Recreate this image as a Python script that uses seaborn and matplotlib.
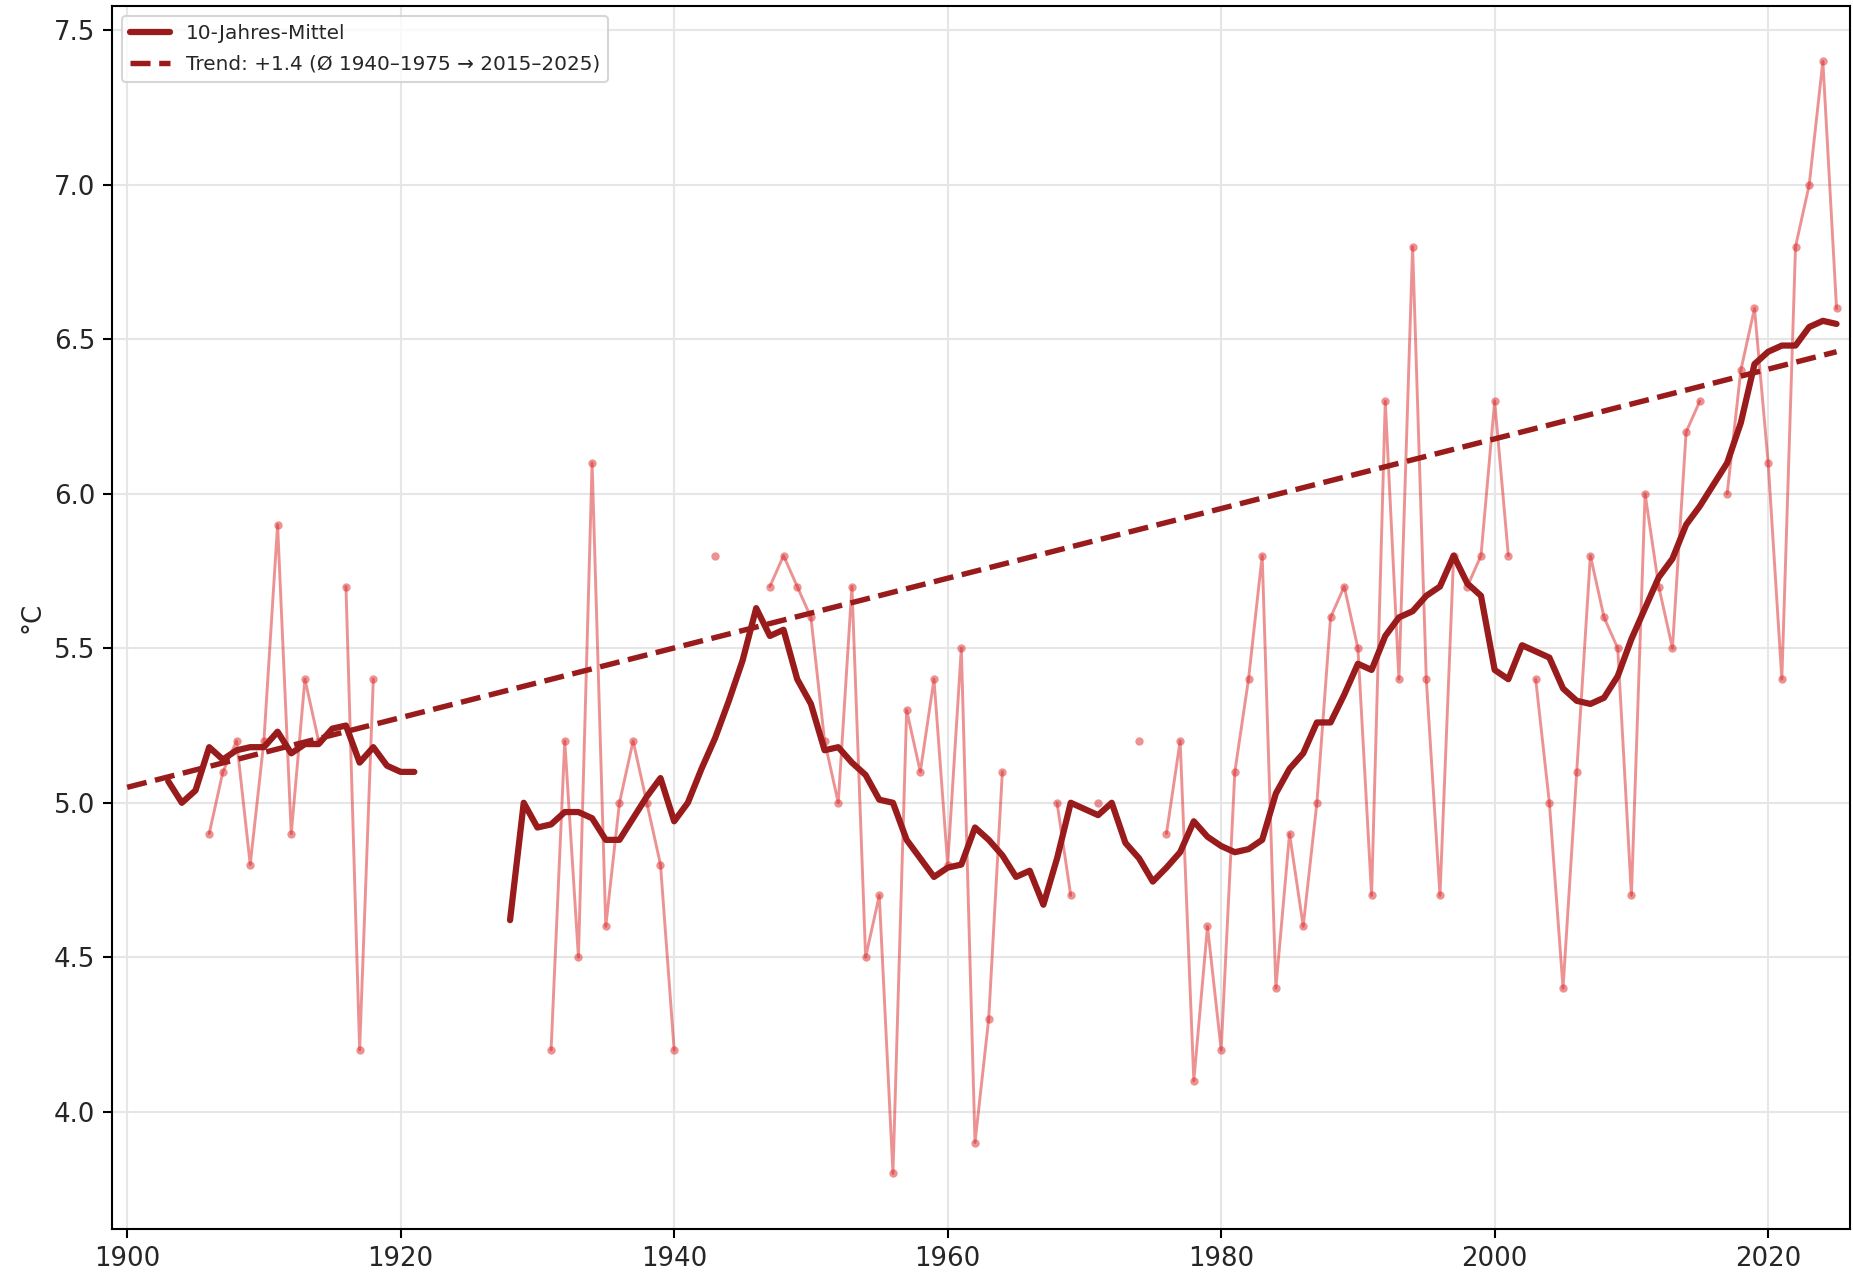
import numpy as np
import pandas as pd
import matplotlib
matplotlib.use("Agg")
import matplotlib.pyplot as plt
import seaborn as sns

nan = np.nan

# ---- data ----
raw_years = list(range(1906, 2026))
raw_values = [
    4.9, 5.1, 5.2, 4.8, 5.2, 5.9, 4.9, 5.4, 5.2, nan,          # 1906-1915
    5.7, 4.2, 5.4, nan, nan, nan, nan, nan, nan, nan,          # 1916-1925
    nan, nan, nan, nan, nan, 4.2, 5.2, 4.5, 6.1, 4.6,          # 1926-1935
    5.0, 5.2, 5.0, 4.8, 4.2, nan, nan, 5.8, nan, nan,          # 1936-1945
    nan, 5.7, 5.8, 5.7, 5.6, 5.2, 5.0, 5.7, 4.5, 4.7,          # 1946-1955
    3.8, 5.3, 5.1, 5.4, 4.8, 5.5, 3.9, 4.3, 5.1, nan,          # 1956-1965
    nan, nan, 5.0, 4.7, nan, 5.0, nan, nan, 5.2, nan,          # 1966-1975
    4.9, 5.2, 4.1, 4.6, 4.2, 5.1, 5.4, 5.8, 4.4, 4.9,          # 1976-1985
    4.6, 5.0, 5.6, 5.7, 5.5, 4.7, 6.3, 5.4, 6.8, 5.4,          # 1986-1995
    4.7, 5.8, 5.7, 5.8, 6.3, 5.8, nan, 5.4, 5.0, 4.4,          # 1996-2005
    5.1, 5.8, 5.6, 5.5, 4.7, 6.0, 5.7, 5.5, 6.2, 6.3,          # 2006-2015
    nan, 6.0, 6.4, 6.6, 6.1, 5.4, 6.8, 7.0, 7.4, 6.6,          # 2016-2025
]

roll_years = list(range(1903, 2026))
roll_values = [
    5.07, 5.00, 5.04, 5.18, 5.14, 5.17, 5.18,                  # 1903-1909
    5.18, 5.23, 5.16, 5.19, 5.19, 5.24, 5.25, 5.13, 5.18, 5.12,  # 1910-1919
    5.10, 5.10, nan, nan, nan, nan, nan, nan, 4.62, 5.00,      # 1920-1929
    4.92, 4.93, 4.97, 4.97, 4.95, 4.88, 4.88, 4.95, 5.02, 5.08,  # 1930-1939
    4.94, 5.00, 5.11, 5.21, 5.33, 5.46, 5.63, 5.54, 5.56, 5.40,  # 1940-1949
    5.32, 5.17, 5.18, 5.13, 5.09, 5.01, 5.00, 4.88, 4.82, 4.76,  # 1950-1959
    4.79, 4.80, 4.92, 4.88, 4.83, 4.76, 4.78, 4.67, 4.82, 5.00,  # 1960-1969
    4.98, 4.96, 5.00, 4.87, 4.82, 4.745, 4.79, 4.84, 4.94, 4.89,  # 1970-1979
    4.86, 4.84, 4.85, 4.88, 5.03, 5.11, 5.16, 5.26, 5.26, 5.35,  # 1980-1989
    5.45, 5.43, 5.54, 5.60, 5.62, 5.67, 5.70, 5.80, 5.71, 5.67,  # 1990-1999
    5.43, 5.40, 5.51, 5.49, 5.47, 5.37, 5.33, 5.32, 5.34, 5.41,  # 2000-2009
    5.53, 5.63, 5.73, 5.79, 5.90, 5.96, 6.03, 6.10, 6.23, 6.42,  # 2010-2019
    6.46, 6.48, 6.48, 6.54, 6.56, 6.55,                        # 2020-2025
]

trend_years = [1900, 2025]
trend_values = [5.05, 6.46]

roll_label = "10-Jahres-Mittel"
trend_label = "Trend: +1.4 (Ø 1940–1975 → 2015–2025)"
y_label = "°C"
y_ticks = [4.0, 4.5, 5.0, 5.5, 6.0, 6.5, 7.0, 7.5]
x_ticks = [1900, 1920, 1940, 1960, 1980, 2000, 2020]


def segmented(years, values):
    df = pd.DataFrame({"year": years, "value": values})
    df["seg"] = df["value"].isna().cumsum()
    return df.dropna().reset_index(drop=True)


raw_df = segmented(raw_years, raw_values)
roll_df = segmented(roll_years, roll_values)
trend_df = pd.DataFrame({"year": trend_years, "value": trend_values})

sns.set_theme(style="ticks")
plt.rcParams["font.family"] = ["DejaVu Sans"]

dark = "#991b1b"
light = "#dc2626"

fig, ax = plt.subplots(figsize=(1853 / 150, 1275 / 150), dpi=150)
fig.subplots_adjust(left=0.0605, right=0.9985, top=0.9955, bottom=0.036)

sns.lineplot(data=raw_df, x="year", y="value", units="seg", estimator=None,
             color=light, alpha=0.5, lw=1.4, marker="o", markersize=4,
             markeredgewidth=0, ax=ax, legend=False)
sns.lineplot(data=roll_df, x="year", y="value", units="seg", estimator=None,
             color=dark, lw=3.0, ax=ax, label=roll_label)
sns.lineplot(data=trend_df, x="year", y="value", color=dark, lw=2.6,
             linestyle="--", ax=ax, label=trend_label)

ax.set_xlim(1898.9, 2026.0)
ax.set_ylim(3.62, 7.58)
ax.set_xticks(x_ticks)
ax.set_yticks(y_ticks)
ax.set_yticklabels([f"{v:.1f}" for v in y_ticks])
ax.set_xlabel("")
ax.set_ylabel(y_label, fontsize=12.5)
ax.tick_params(axis="both", labelsize=12.5, length=4.5, width=1, color="black")
ax.grid(True, color="#e6e6e6", lw=1.0)
for s in ax.spines.values():
    s.set_visible(True)
    s.set_color("black")
    s.set_linewidth(1.0)

handles, labels = ax.get_legend_handles_labels()
uniq = dict(zip(labels, handles))
ax.legend(list(uniq.values()), list(uniq.keys()), loc="upper left",
          fontsize=9.6, frameon=True, borderaxespad=0.5, handlelength=2.0,
          labelspacing=0.6)

fig.savefig("out.png", dpi=150)
